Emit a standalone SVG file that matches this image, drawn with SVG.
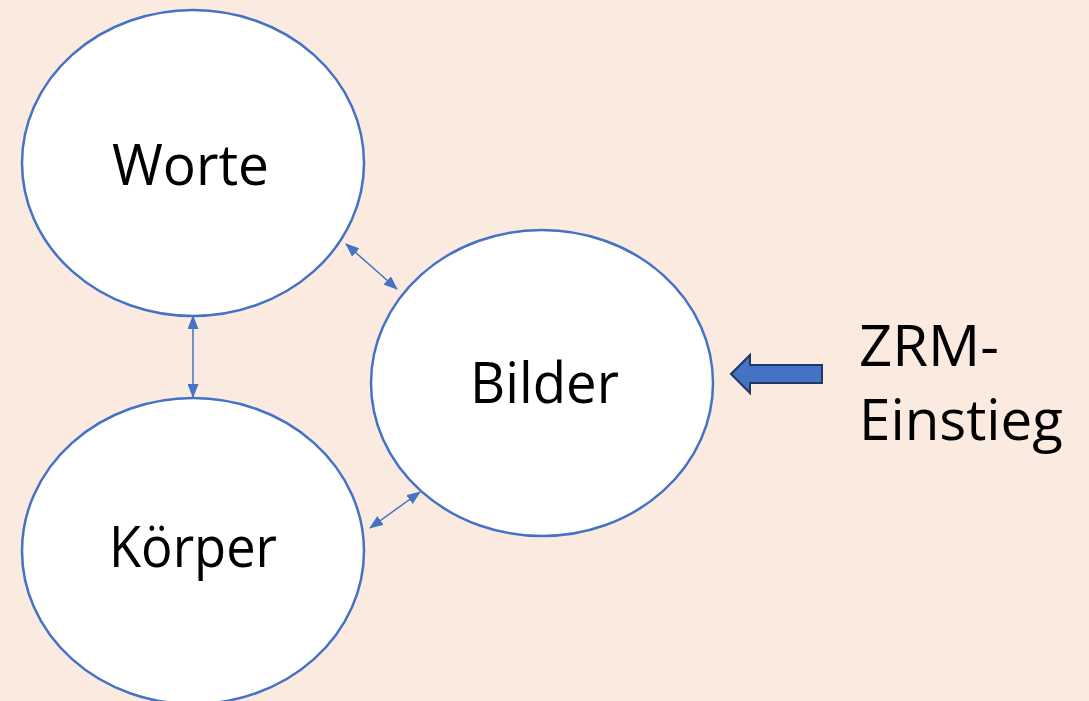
<svg xmlns="http://www.w3.org/2000/svg" width="1089" height="701" viewBox="0 0 1089 701">
  <style>
    .node { fill: #FFFFFF; stroke: #4472C4; stroke-width: 2.5; }
    .label { font-family: "Open Sans", "Liberation Sans", sans-serif; font-size: 57px; fill: #000000; }
    .link { stroke: #4472C4; stroke-width: 1.5; fill: none; marker-start: url(#head); marker-end: url(#head); }
  </style>
  <defs>
    <marker id="head" viewBox="0 0 14 11" refX="13" refY="5.5" markerWidth="14" markerHeight="11" markerUnits="userSpaceOnUse" orient="auto-start-reverse">
      <path d="M0,0 L14,5.5 L0,11 Z" fill="#4472C4"/>
    </marker>
  </defs>

  <rect width="1089" height="701" fill="#FBEADF"/>

  <g id="worte">
    <ellipse class="node" cx="193" cy="163" rx="171" ry="153"/>
    <text class="label" x="112" y="185" textLength="157" lengthAdjust="spacingAndGlyphs">Worte</text>
  </g>

  <g id="bilder">
    <ellipse class="node" cx="542" cy="383" rx="171" ry="153"/>
    <text class="label" x="470" y="403" textLength="149" lengthAdjust="spacingAndGlyphs">Bilder</text>
  </g>

  <g id="koerper">
    <ellipse class="node" cx="193" cy="551" rx="171" ry="153"/>
    <text class="label" x="109" y="567" textLength="168" lengthAdjust="spacingAndGlyphs">Körper</text>
  </g>

  <g id="zrm-einstieg">
    <path d="M731,374 L750,355 L750,365 L822,365 L822,383 L750,383 L750,393 Z" fill="#4472C4" stroke="#203864" stroke-width="2" stroke-linejoin="miter"/>
    <text class="label" x="859" y="366" textLength="140" lengthAdjust="spacingAndGlyphs">ZRM-</text>
    <text class="label" x="859" y="440" textLength="204" lengthAdjust="spacingAndGlyphs">Einstieg</text>
  </g>

  <g id="connectors">
    <line class="link" x1="346" y1="244" x2="397" y2="289"/>
    <line class="link" x1="193" y1="316" x2="193" y2="397"/>
    <line class="link" x1="420" y1="492" x2="370" y2="528"/>
  </g>
</svg>
